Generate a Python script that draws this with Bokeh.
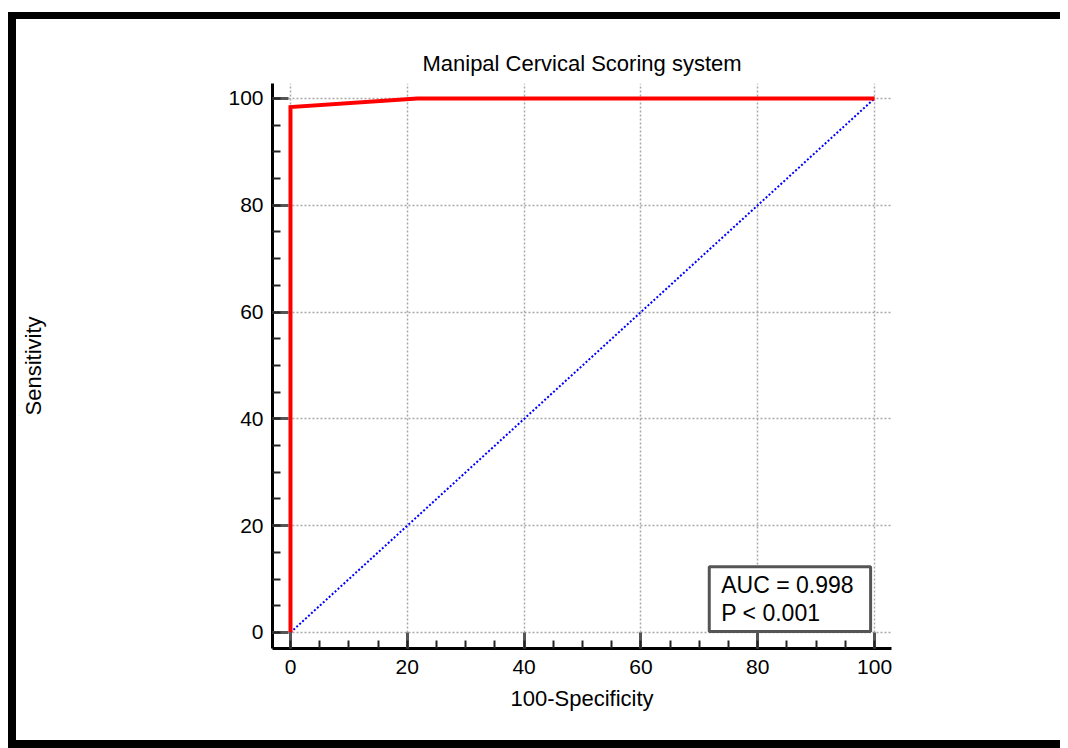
from bokeh.plotting import figure
from bokeh.models import SingleIntervalTicker, Range1d, Label
from bokeh.embed import file_html
from bokeh.resources import INLINE

# ROC curve data
fpr = [0, 0, 21.7, 100]          # 100-Specificity
tpr = [0, 98.4, 100, 100]        # Sensitivity
ref_x = [0, 100]                 # reference diagonal
ref_y = [0, 100]
auc_text = "AUC = 0.998"
p_text = "P < 0.001"
title_text = "Manipal Cervical Scoring system"
x_label = "100-Specificity"
y_label = "Sensitivity"

FONT = "Liberation Sans"

p = figure(width=1044, height=721, output_backend="svg", toolbar_location=None,
           x_range=Range1d(-3.08, 102.9), y_range=Range1d(-3.0, 102.8),
           min_border_left=256, min_border_right=169, min_border_top=64, min_border_bottom=92,
           title=title_text)
p.styles = {"margin-top": "19px", "margin-left": "16px",
            "box-shadow": "-8px 0 0 0 black, 0 -7px 0 0 black, -8px -7px 0 0 black, "
                          "0 8px 0 0 black, -8px 8px 0 0 black"}

p.outline_line_color = None
p.background_fill_color = "white"
p.border_fill_color = "white"

p.title.align = "center"
p.title.text_font = FONT
p.title.text_font_size = "22px"
p.title.text_font_style = "normal"
p.title.text_color = "black"
p.title.standoff = 15

for ax in (p.xaxis[0], p.yaxis[0]):
    ax.ticker = SingleIntervalTicker(interval=20, num_minor_ticks=4)
    ax.axis_line_color = "black"
    ax.axis_line_width = 3
    ax.major_tick_in = 16
    ax.major_tick_out = 0
    ax.minor_tick_in = 8
    ax.minor_tick_out = 0
    ax.major_tick_line_color = "#555555"
    ax.major_tick_line_width = 3
    ax.minor_tick_line_color = "#222222"
    ax.minor_tick_line_width = 2
    ax.major_label_text_font = FONT
    ax.major_label_text_font_size = "21px"
    ax.major_label_text_color = "black"
    ax.axis_label_text_font = FONT
    ax.axis_label_text_font_size = "22px"
    ax.axis_label_text_font_style = "normal"
    ax.axis_label_text_color = "black"

p.xaxis.axis_label = x_label
p.yaxis.axis_label = y_label
p.xaxis.major_label_standoff = 11
p.yaxis.major_label_standoff = 9
p.xaxis.axis_label_standoff = 9
p.yaxis.axis_label_standoff = 179

for g in (p.xgrid[0], p.ygrid[0]):
    g.ticker = SingleIntervalTicker(interval=20)
    g.grid_line_color = "#a8a8a8"
    g.grid_line_width = 1.5
    g.grid_line_dash = "2 2"

p.line(ref_x, ref_y, line_color="#0000ff", line_width=2, line_dash="2 2")
p.line(fpr, tpr, line_color="#ff0000", line_width=4, line_join="miter")

box = Label(x=71.7, y=0.2, x_units="data", y_units="data",
            text=auc_text + "\n" + p_text, anchor="bottom_left",
            text_font=FONT, text_font_size="23px", text_color="black",
            text_line_height=1.1,
            border_line_color="#555555", border_line_width=3,
            background_fill_color="white", padding=(12, 17, 5, 5))
p.add_layout(box)

open("out.html", "w").write(file_html(p, INLINE))
